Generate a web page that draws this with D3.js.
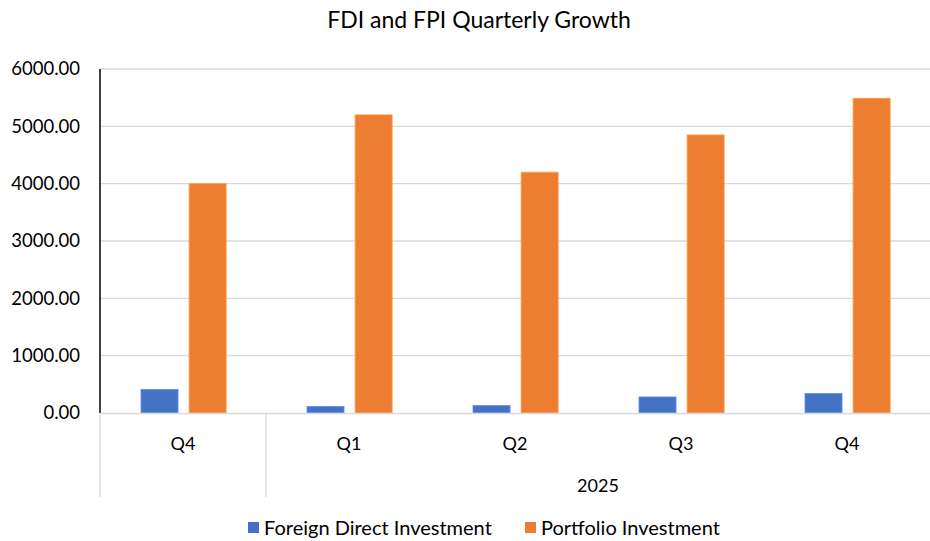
<!DOCTYPE html>
<html>
<head>
<meta charset="utf-8">
<script src="https://cdn.jsdelivr.net/npm/d3@7"></script>
<style>
  html, body { margin: 0; padding: 0; background: #fff; }
  svg text { font-family: Lato, "Open Sans", sans-serif; fill: #000; }
</style>
</head>
<body>
<svg id="chart"></svg>
<script>
'use strict';

// chart data
var quarters = ['Q4', 'Q1', 'Q2', 'Q3', 'Q4'];
var yearLabels = ['', '2025'];
var yearSpans = [1, 4];
var seriesNames = ['Foreign Direct Investment', 'Portfolio Investment'];
var fdiValues = [410, 115, 130, 280, 340];
var fpiValues = [4000, 5200, 4200, 4850, 5490];
var yTicks = [0, 1000, 2000, 3000, 4000, 5000, 6000];

var colors = ['#4472C4', '#ED7D31'];

var width = 930, height = 541;
var plotLeft = 100, plotRight = 930, plotTop = 69, plotBottom = 413;

var svg = d3.select('#chart')
	.attr('width', width)
	.attr('height', height);

// category keys need to be unique (Q4 shows up twice)
var keys = quarters.map(function(q, i) { return i; });

var x0 = d3.scaleBand()
	.domain(keys)
	.range([plotLeft, plotRight])
	.paddingInner(0)
	.paddingOuter(0);

var bw = x0.bandwidth();
var x1 = d3.scaleBand()
	.domain([0, 1])
	.range([bw * 0.247, bw * 0.76])
	.paddingInner(0.23)
	.paddingOuter(0);

var y = d3.scaleLinear()
	.domain([0, 6000])
	.range([plotBottom, plotTop]);

// title
svg.append('text')
	.attr('x', 479)
	.attr('y', 28)
	.attr('text-anchor', 'middle')
	.style('font-size', '23px')
	.text('FDI and FPI Quarterly Growth');

// gridlines
svg.append('g')
	.selectAll('line').data(yTicks.slice(1))
	.enter().append('line')
	.attr('x1', plotLeft)
	.attr('x2', plotRight)
	.attr('y1', function(d) { return y(d); })
	.attr('y2', function(d) { return y(d); })
	.attr('stroke', '#d9d9d9')
	.attr('stroke-width', 1.3);

// y axis
var yAxis = d3.axisLeft(y)
	.tickValues(yTicks)
	.tickFormat(d3.format('.2f'))
	.tickSize(0)
	.tickPadding(20);

var yg = svg.append('g')
	.attr('transform', 'translate(' + plotLeft + ',0)')
	.call(yAxis);
yg.select('.domain').remove();
yg.selectAll('text')
	.style('font-size', '18.5px')
	.attr('fill', '#000');

// bars
var data = keys.map(function(k) {
	return { key: k, values: [fdiValues[k], fpiValues[k]] };
});

var groups = svg.append('g')
	.selectAll('g').data(data)
	.enter().append('g')
	.attr('transform', function(d) { return 'translate(' + x0(d.key) + ',0)'; });

groups.selectAll('rect')
	.data(function(d) { return d.values.map(function(v, i) { return { s: i, v: v }; }); })
	.enter().append('rect')
	.attr('x', function(d) { return x1(d.s); })
	.attr('width', x1.bandwidth())
	.attr('y', function(d) { return y(d.v); })
	.attr('height', function(d) { return y(0) - y(d.v); })
	.attr('fill', function(d) { return colors[d.s]; })
	.attr('stroke', function(d) { return d3.color(colors[d.s]).brighter(0.7); })
	.attr('stroke-width', 0.8);

// y axis line
svg.append('line')
	.attr('x1', plotLeft).attr('x2', plotLeft)
	.attr('y1', plotTop).attr('y2', plotBottom)
	.attr('stroke', '#000')
	.attr('stroke-width', 1.5);

// x axis line
svg.append('line')
	.attr('x1', plotLeft).attr('x2', plotRight)
	.attr('y1', plotBottom + 0.5).attr('y2', plotBottom + 0.5)
	.attr('stroke', '#d9d9d9')
	.attr('stroke-width', 1.5);

// quarter labels
var xAxis = d3.axisBottom(x0)
	.tickFormat(function(k) { return quarters[k]; })
	.tickSize(0)
	.tickPadding(24);

var xg = svg.append('g')
	.attr('transform', 'translate(0,' + plotBottom + ')')
	.call(xAxis);
xg.select('.domain').remove();
xg.selectAll('text').style('font-size', '18px');

// year groups and separators
var sepBottom = 497;
var start = 0;
var bounds = [];
yearSpans.forEach(function(span, i) {
	var a = x0(keys[start]);
	var b = x0(keys[start + span - 1]) + bw;
	bounds.push({ a: a, b: b, label: yearLabels[i] });
	start += span;
});

svg.append('g')
	.selectAll('line').data(bounds)
	.enter().append('line')
	.attr('x1', function(d) { return d.a; })
	.attr('x2', function(d) { return d.a; })
	.attr('y1', plotBottom)
	.attr('y2', sepBottom)
	.attr('stroke', '#d9d9d9')
	.attr('stroke-width', 1.3);

svg.append('g')
	.selectAll('text').data(bounds)
	.enter().append('text')
	.attr('x', function(d) { return (d.a + d.b) / 2; })
	.attr('y', 492)
	.attr('text-anchor', 'middle')
	.style('font-size', '18px')
	.text(function(d) { return d.label; });

// legend (reference crops it at the bottom edge; keep it just inside)
var legendX = [248, 525];
var legend = svg.append('g')
	.selectAll('g').data(seriesNames)
	.enter().append('g')
	.attr('transform', function(d, i) { return 'translate(' + legendX[i] + ',0)'; });

legend.append('rect')
	.attr('x', 0)
	.attr('y', 522)
	.attr('width', 11)
	.attr('height', 11)
	.attr('fill', function(d, i) { return colors[i]; });

legend.append('text')
	.attr('x', 16)
	.attr('y', 535)
	.style('font-size', '20px')
	.text(function(d) { return d; });
</script>
</body>
</html>
